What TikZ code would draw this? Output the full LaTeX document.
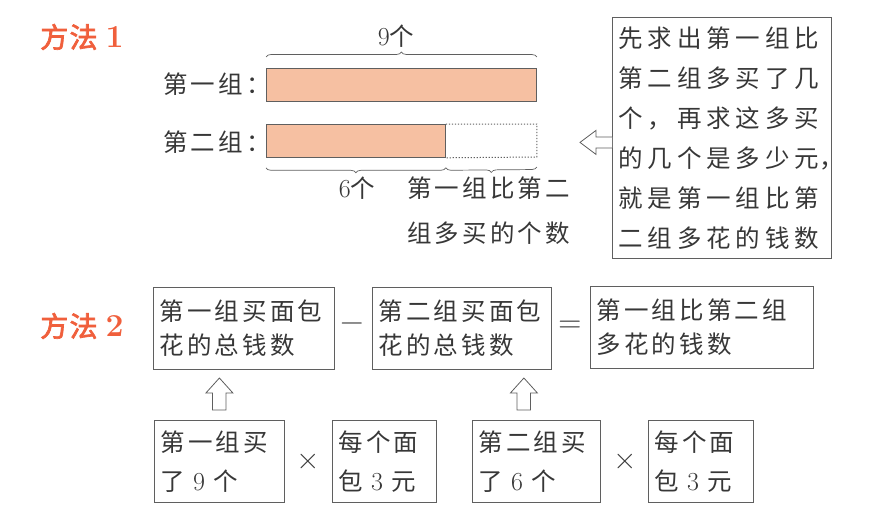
\documentclass[tikz,border=0pt]{standalone}
\usepackage{fontspec}
\newfontfamily\cjk{Noto Sans CJK SC}[LetterSpace=13]
\newfontfamily\cjkw{Noto Sans CJK SC}[LetterSpace=20]
\newfontfamily\cjkt{Noto Sans CJK SC}[FakeBold=2.5,LetterSpace=5]
\newcommand\dg[1]{{\rmfamily\fontsize{26}{26}\selectfont #1}}
\usetikzlibrary{decorations.pathreplacing,calc}
\definecolor{ink}{RGB}{55,55,55}
\definecolor{edge}{RGB}{95,95,95}
\definecolor{barfill}{RGB}{246,192,162}
\definecolor{titlecol}{RGB}{240,95,60}
\begin{document}
\begin{tikzpicture}[x=1pt,y=-1pt,
  txt/.style={text=ink, inner sep=0pt, font=\cjk\fontsize{24.5}{34}\selectfont},
  box/.style={draw=edge, line width=0.8pt, inner xsep=6pt, inner ysep=0pt, anchor=north west, align=left, text=ink},
  ttl/.style={text=titlecol, inner sep=0pt, anchor=west, font=\cjkt\fontsize{28}{28}\selectfont},
  barbox/.style={draw=edge, line width=0.8pt, fill=barfill, minimum height=33pt, inner sep=0pt, anchor=north west},
  bracestyle/.style={draw=edge, line width=0.7pt, decorate, decoration={brace, amplitude=5pt}},
  hollow/.style={draw=edge, line width=0.8pt, fill=white, line join=miter},
  op/.style={text=ink, inner sep=0pt, font=\rmfamily\fontsize{32}{32}\selectfont}]
\useasboundingbox (0,0) rectangle (871,519);

% titles
\node[ttl] (t1) at (40,37) {方法\hspace{8pt}{\rmfamily\bfseries\fontsize{32}{32}\selectfont 1}};
\node[ttl] (t2) at (40,326) {方法\hspace{8pt}{\rmfamily\bfseries\fontsize{32}{32}\selectfont 2}};

% method 1 bars
\node[txt, anchor=west] (l1) at (163,84) {第一组：};
\node[txt, anchor=west] (l2) at (163,142) {第二组：};
\node[barbox, minimum width=270pt] (bar1) at (266,68) {};
\node[barbox, minimum width=179pt] (bar2) at (266,124) {};
\coordinate (bar2end) at ($(bar2.north east)+(91,0)$);
\draw[edge, line width=1pt, dash pattern=on 1.2pt off 1.8pt] (bar2.north east) -- (bar2end) -- ++(0,33) -- (bar2.south east);

\draw[bracestyle] ($(bar1.north west)+(0,-11)$) -- ($(bar1.north east)+(0,-11)$);
\draw[bracestyle] ($(bar2.south east)+(0,10)$) -- ($(bar2.south west)+(0,10)$);
\draw[bracestyle] ($(bar2end)+(0,43)$) -- ($(bar2.south east)+(0,10)$);

\node[txt] (n9) at (396,36) {\dg{9}个};
\node[txt] (n6) at (357,188) {\dg{6}个};
\node[txt, anchor=west, align=left, font=\cjk\fontsize{24.5}{45}\selectfont] (diff) at (407,210.5) {第一组比第二\\组多买的个数};

% explanation box
\node[box, minimum width=219pt, minimum height=241pt, text width=207pt, font=\cjkw\fontsize{24.5}{40}\selectfont] (R) at (612,17)
  {先求出第一组比\\第二组多买了几\\个，再求这多买\\的几个是多少元\makebox[4pt][l]{，}\\就是第一组比第\\二组多花的钱数};
\draw[hollow] ($(R.west)+(0,-1)$) -- ++(-16,0) -- ++(0,-6.5) -- ++(-16,12) -- ++(16,12) -- ++(0,-6.5) -- ++(16,0);

% method 2
\node[box, minimum width=181pt, minimum height=82pt, text width=169pt, font=\cjk\fontsize{24.5}{34}\selectfont] (A) at (153,287) {第一组买面包\\花的总钱数};
\node[op] (minus) at (352,327) {−};
\node[box, minimum width=179pt, minimum height=82pt, text width=167pt, font=\cjk\fontsize{24.5}{34}\selectfont] (B) at (372,287) {第二组买面包\\花的总钱数};
\node[op] (eq) at (570,327) {=};
\node[box, minimum width=223pt, minimum height=82pt, text width=211pt, font=\cjk\fontsize{24.5}{34}\selectfont] (C) at (590,286) {第一组比第二组\\多花的钱数};

\node[box, minimum width=130pt, minimum height=82pt, text width=118pt, font=\cjk\fontsize{24.5}{39}\selectfont] (D) at (154,420) {第一组买\\了 \dg{9} 个};
\node[op] (times1) at (308,462) {×};
\node[box, minimum width=104pt, minimum height=82pt, text width=92pt, font=\cjk\fontsize{24.5}{39}\selectfont] (E) at (332,420) {每个面\\包 \dg{3} 元};
\node[box, minimum width=128pt, minimum height=82pt, text width=116pt, font=\cjk\fontsize{24.5}{39}\selectfont] (F) at (472,420) {第二组买\\了 \dg{6} 个};
\node[op] (times2) at (625,462) {×};
\node[box, minimum width=105pt, minimum height=82pt, text width=93pt, font=\cjk\fontsize{24.5}{39}\selectfont] (G) at (648,420) {每个面\\包 \dg{3} 元};

\draw[hollow] ($(D.north)+(-7,-10)$) -- ++(0,-17) -- ++(-6.5,0) -- ++(13.5,-15) -- ++(13.5,15) -- ++(-7,0) -- ++(0,17) -- cycle;
\draw[hollow] ($(F.north)+(-19.5,-10)$) -- ++(0,-17) -- ++(-6.5,0) -- ++(13.5,-15) -- ++(13.5,15) -- ++(-7,0) -- ++(0,17) -- cycle;
\end{tikzpicture}
\end{document}
